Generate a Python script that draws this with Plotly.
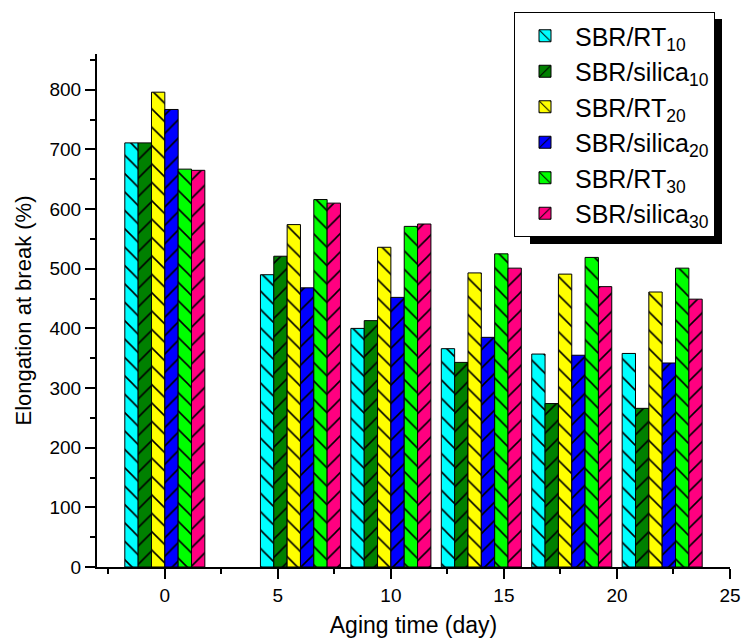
import plotly.graph_objects as go

aging_days = [0, 6, 10, 14, 18, 22]
series_names = ["SBR/RT<sub>10</sub>", "SBR/silica<sub>10</sub>", "SBR/RT<sub>20</sub>",
                "SBR/silica<sub>20</sub>", "SBR/RT<sub>30</sub>", "SBR/silica<sub>30</sub>"]
sbr_rt_10 = [711, 490, 400, 366, 357, 358]
sbr_silica_10 = [711, 521, 413, 343, 274, 266]
sbr_rt_20 = [796, 574, 536, 493, 491, 461]
sbr_silica_20 = [767, 468, 452, 385, 355, 342]
sbr_rt_30 = [667, 616, 571, 525, 519, 501]
sbr_silica_30 = [665, 610, 575, 501, 470, 449]

series_values = [sbr_rt_10, sbr_silica_10, sbr_rt_20, sbr_silica_20, sbr_rt_30, sbr_silica_30]
colors = ["#00FFFF", "#008000", "#FFFF00", "#0000FF", "#00FF00", "#FF0080"]
hatches = ["\\", "/", "\\", "/", "\\", "/"]

font = "Liberation Sans, Arial, sans-serif"

# plot area in window pixels: x 97..730, y 54..567
def px(xp):
    return (xp - 97) / 633

def py(yp):
    return (567 - yp) / 513

fig = go.Figure()
for name, vals, col, h in zip(series_names, series_values, colors, hatches):
    fig.add_trace(go.Bar(
        x=aging_days, y=vals, name=name,
        marker=dict(color=col, line=dict(color="black", width=1),
                    pattern=dict(shape=h, fgcolor="black", bgcolor=col,
                                 fillmode="replace", size=13, solidity=0.12)),
    ))

fig.update_layout(
    width=743, height=642,
    barmode="group", bargap=0.115, bargroupgap=0,
    plot_bgcolor="white", paper_bgcolor="white",
    margin=dict(l=97, r=13, t=54, b=75, autoexpand=False),
    font=dict(family=font, color="black", size=19),
    legend=dict(x=px(715), y=py(12), xanchor="right", yanchor="top",
                bgcolor="white", bordercolor="black", borderwidth=1,
                font=dict(size=25, family=font), itemwidth=50),
    shapes=[dict(type="rect", xref="paper", yref="paper",
                 x0=px(530), x1=px(722),
                 y0=py(244), y1=py(19),
                 fillcolor="black", line=dict(width=0), layer="above")],
)
fig.update_xaxes(
    range=[-3, 25], dtick=5, tick0=0, showgrid=False, zeroline=False,
    showline=True, linecolor="black", linewidth=2, automargin=False,
    ticks="outside", ticklen=10, tickwidth=2, tickcolor="black",
    minor=dict(dtick=2.5, ticks="outside", ticklen=5, tickwidth=2, tickcolor="black"),
    tickfont=dict(size=19),
    title=dict(text="Aging time (day)", font=dict(size=23), standoff=12),
)
fig.update_yaxes(
    range=[0, 860], dtick=100, tick0=0, showgrid=False, zeroline=False,
    showline=True, linecolor="black", linewidth=2, automargin=False,
    ticks="outside", ticklen=10, tickwidth=2, tickcolor="black",
    minor=dict(dtick=50, ticks="outside", ticklen=5, tickwidth=2, tickcolor="black"),
    tickfont=dict(size=19),
    title=dict(text="Elongation at break (%)", font=dict(size=22), standoff=12),
)

fig.write_html("out.html",
               config={"displayModeBar": False},
               post_script="document.body.style.margin='0px';document.body.style.overflow='hidden';")
